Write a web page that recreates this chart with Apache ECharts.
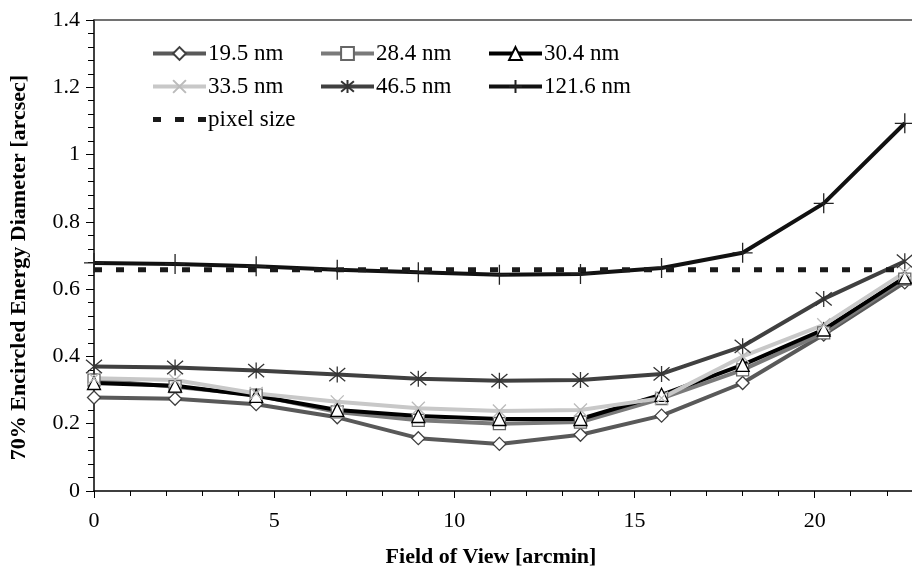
<!DOCTYPE html>
<html lang="en">
<head>
    <meta charset="UTF-8">
    <title>Encircled Energy Diameter</title>
    <script src="https://cdn.jsdelivr.net/npm/echarts@latest/dist/echarts.min.js"></script>
</head>
<body style="margin:0">
    <div id="main" style="width: 912px; height: 578px;"></div>
    <script>
        // field of view positions [arcmin]
        const fov = [0, 2.25, 4.5, 6.75, 9, 11.25, 13.5, 15.75, 18, 20.25, 22.5];

        // 70% encircled energy diameter [arcsec] per wavelength
        const nm195 = [0.278, 0.274, 0.258, 0.219, 0.157, 0.140, 0.167, 0.224, 0.321, 0.465, 0.620];
        const nm284 = [0.330, 0.310, 0.285, 0.235, 0.210, 0.200, 0.205, 0.275, 0.360, 0.470, 0.630];
        const nm304 = [0.321, 0.313, 0.283, 0.241, 0.223, 0.214, 0.214, 0.286, 0.375, 0.480, 0.635];
        const nm335 = [0.335, 0.330, 0.290, 0.265, 0.246, 0.238, 0.241, 0.276, 0.400, 0.494, 0.650];
        const nm465 = [0.370, 0.367, 0.358, 0.346, 0.334, 0.328, 0.330, 0.348, 0.430, 0.571, 0.683];
        const nm1216 = [0.678, 0.675, 0.668, 0.658, 0.650, 0.643, 0.645, 0.663, 0.708, 0.855, 1.093];
        const pixelSize = 0.658;

        const serif = '"Liberation Serif", "DejaVu Serif", serif';
        const pts = vals => fov.map((x, i) => [x, vals[i]]);

        const crossPath = 'path://M0,0L10,10M10,0L0,10';
        const starPath = 'path://M0,0L10,10M10,0L0,10M5,-1L5,11';
        const plusPath = 'path://M5,0L5,10M0,5L10,5';
        const dashIcon = 'path://M0,0h8v5h-8z M22,0h9v5h-9z M45,0h8v5h-8z';

        function lineSeries(name, vals, lineColor, symbol, size, fill, stroke) {
            return {
                name: name,
                type: 'line',
                data: pts(vals),
                symbol: symbol,
                symbolSize: size,
                lineStyle: { color: lineColor, width: 4 },
                itemStyle: { color: fill, borderColor: stroke, borderWidth: 1.3 }
            };
        }

        const series = [
            lineSeries('19.5 nm', nm195, '#595959', 'diamond', 13, '#fff', '#404040'),
            lineSeries('28.4 nm', nm284, '#7a7a7a', 'rect', 12, '#fff', '#666'),
            lineSeries('30.4 nm', nm304, '#000', 'triangle', 13, '#fff', '#000'),
            lineSeries('33.5 nm', nm335, '#c8c8c8', crossPath, 13, 'transparent', '#bbb'),
            lineSeries('46.5 nm', nm465, '#404040', starPath, 16, 'transparent', '#333'),
            lineSeries('121.6 nm', nm1216, '#111', plusPath, 20, 'transparent', '#222'),
            {
                name: 'pixel size',
                type: 'line',
                data: [[fov[0], pixelSize], [fov[fov.length - 1], pixelSize]],
                symbol: 'none',
                itemStyle: { color: '#1a1a1a' },
                lineStyle: { color: '#1a1a1a', width: 5, type: [8, 14] }
            }
        ];

        const legendBase = {
            orient: 'vertical',
            top: 37,
            itemWidth: 53,
            itemHeight: 16,
            itemGap: 10,
            lineStyle: { width: 4 },
            textStyle: { fontFamily: serif, fontSize: 23, color: '#000', padding: [0, 0, 0, -3] }
        };

        const option = {
            animation: false,
            grid: { left: 92, right: 0, top: 20, bottom: 87 },
            legend: [
                Object.assign({}, legendBase, {
                    left: 146,
                    data: ['19.5 nm', '33.5 nm', { name: 'pixel size', icon: dashIcon }]
                }),
                Object.assign({}, legendBase, { left: 314, data: ['28.4 nm', '46.5 nm'] }),
                Object.assign({}, legendBase, { left: 482, data: ['30.4 nm', '121.6 nm'] })
            ],
            xAxis: [{
                type: 'value',
                min: 0,
                max: 22.7,
                interval: 5,
                name: 'Field of View [arcmin]',
                nameLocation: 'middle',
                nameGap: 55,
                nameTextStyle: {
                    fontFamily: serif, fontSize: 22, fontWeight: 'bold', color: '#000',
                    padding: [0, 24, 0, 0]
                },
                axisLine: { lineStyle: { color: '#000', width: 1.5 } },
                axisTick: { length: 7, lineStyle: { color: '#000' } },
                minorTick: { show: true, splitNumber: 5, length: 5, lineStyle: { color: '#000' } },
                axisLabel: { fontFamily: serif, fontSize: 22, color: '#000', margin: 19, showMaxLabel: false },
                splitLine: { show: false }
            }, {
                type: 'value',
                position: 'top',
                min: 0,
                max: 22.7,
                axisLine: { show: true, lineStyle: { color: '#444', width: 1.5 } },
                axisTick: { show: false },
                axisLabel: { show: false },
                splitLine: { show: false }
            }],
            yAxis: {
                type: 'value',
                min: 0,
                max: 1.4,
                interval: 0.2,
                name: '70% Encircled Energy Diameter [arcsec]',
                nameLocation: 'middle',
                nameGap: 64,
                nameTextStyle: {
                    fontFamily: serif, fontSize: 22, fontWeight: 'bold', color: '#000',
                    padding: [0, 24, 0, 0]
                },
                axisLine: { show: true, lineStyle: { color: '#000', width: 1.5 } },
                axisTick: { length: 8, lineStyle: { color: '#000' } },
                minorTick: { show: true, splitNumber: 5, length: 6, lineStyle: { color: '#000' } },
                axisLabel: { fontFamily: serif, fontSize: 22, color: '#000', margin: 14 },
                splitLine: { show: false }
            },
            series: series
        };

        const myChart = echarts.init(document.getElementById('main'));
        myChart.setOption(option);
    </script>
</body>
</html>
